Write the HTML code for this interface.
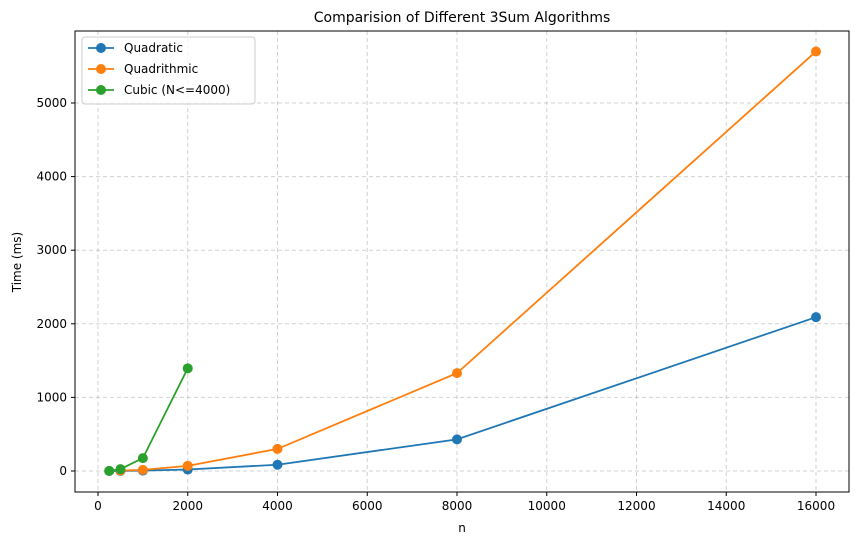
<!DOCTYPE html>
<html><head><meta charset="utf-8"><style>
body{margin:0;background:#fff;font-family:"Liberation Sans","DejaVu Sans",sans-serif}
</style></head><body>
<svg id="c" width="859" height="545" xmlns="http://www.w3.org/2000/svg" font-family="DejaVu Sans, Liberation Sans, sans-serif">
<rect width="859" height="545" fill="#fff"/>
<text x="462" y="22" text-anchor="middle" font-size="14">Comparision of Different 3Sum Algorithms</text>
<text x="462" y="532" text-anchor="middle" font-size="12">n</text>
<text transform="translate(21,262) rotate(-90)" text-anchor="middle" font-size="12">Time (ms)</text>
<g id="grid"></g><g id="ticks"></g><g id="series"></g>
<rect x="75" y="31" width="774" height="461" fill="none" stroke="#000" stroke-width="1"/>
<g>
<rect x="82" y="37" width="173" height="67" rx="3" fill="#fff" fill-opacity="0.8" stroke="#ccc"/>
</g>
<g id="legend"></g>
</svg>
<script>
const xTicks=[0,2000,4000,6000,8000,10000,12000,14000,16000];
const yTicks=[0,1000,2000,3000,4000,5000];
const quadN=[250,500,1000,2000,4000,8000,16000];
const quadT=[0,1,5,20,85,430,2090];
const qlogN=[500,1000,2000,4000,8000,16000];
const qlogT=[5,15,70,300,1330,5700];
const cubN=[250,500,1000,2000];
const cubT=[2,25,175,1395];
const names=["Quadratic","Quadrithmic","Cubic (N<=4000)"];
const colors=["#1f77b4","#ff7f0e","#2ca02c"];
const X=v=>98+v*(816-98)/16000;
const Y=v=>471-v*(471-103)/5000;
const NS="http://www.w3.org/2000/svg";
function mk(t,a,p){const e=document.createElementNS(NS,t);for(const k in a)e.setAttribute(k,a[k]);p.appendChild(e);return e;}
const g=document.getElementById('grid'),tk=document.getElementById('ticks'),s=document.getElementById('series'),lg=document.getElementById('legend');
xTicks.forEach(v=>{const x=X(v);
const l=mk('line',{x1:x,x2:x,y1:31,y2:492,stroke:'#b0b0b0','stroke-dasharray':'4,3','stroke-opacity':0.6},g);


mk('line',{x1:x,x2:x,y1:492,y2:496,stroke:'#000'},tk);
const t=mk('text',{x:x,y:510,'text-anchor':'middle','font-size':12},tk);t.textContent=v;

});
yTicks.forEach(v=>{const y=Y(v);
const l=mk('line',{x1:75,x2:849,y1:y,y2:y,stroke:'#b0b0b0','stroke-dasharray':'4,3','stroke-opacity':0.6},g);


mk('line',{x1:71,x2:75,y1:y,y2:y,stroke:'#000'},tk);
const t=mk('text',{x:67,y:y+4,'text-anchor':'end','font-size':12},tk);t.textContent=v;

});
const sets=[[quadN,quadT],[qlogN,qlogT],[cubN,cubT]];
sets.forEach(([n,t],i)=>{
const gg=mk('g',{},s);


mk('polyline',{points:n.map((v,j)=>X(v)+','+Y(t[j])).join(' '),fill:'none',stroke:colors[i],'stroke-width':1.8},gg);
n.forEach((v,j)=>{const c=mk('circle',{cx:X(v),cy:Y(t[j]),r:5,fill:colors[i]},gg);

});
const ly=48+i*21;
const le=mk('g',{},lg);


mk('line',{x1:88,x2:114,y1:ly,y2:ly,stroke:colors[i],'stroke-width':1.8},le);
mk('circle',{cx:101,cy:ly,r:5,fill:colors[i]},le);
const tx=mk('text',{x:124,y:ly+4,'font-size':12},le);tx.textContent=names[i];
});
</script>
</body></html>
